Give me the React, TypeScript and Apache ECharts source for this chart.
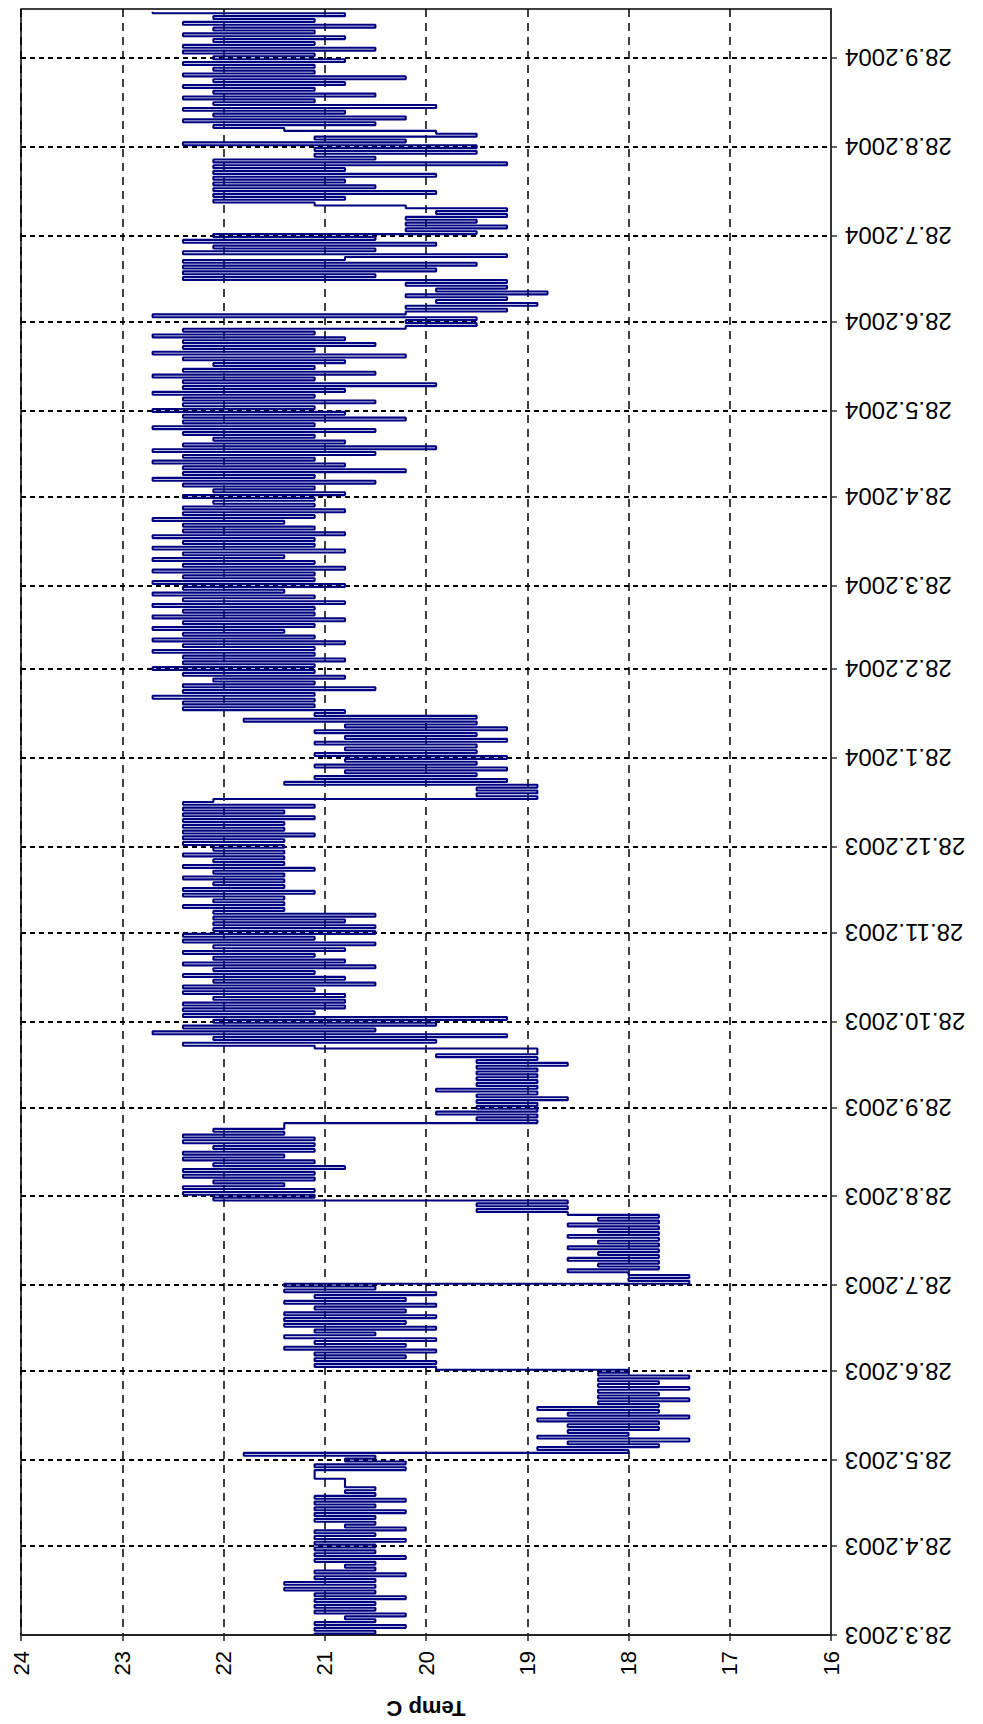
import React, { useEffect, useRef } from "react";
import * as echarts from "echarts";

// Daily readings starting 28.3.2003 (one value per day)
const START_UTC = Date.UTC(2003, 2, 28);
const END_UTC = Date.UTC(2004, 9, 15);
const DAY_MS = 86400000;

const spring2003 = [
  21.1, 20.5, 21.1, 20.2, 21.1, 20.5, 20.8, 20.2, 21.1, 20.5,
  21.1, 20.5, 21.1, 20.2, 21.1, 20.5, 21.4, 20.5, 21.4, 20.5,
  21.1, 20.2, 21.1, 20.5, 20.8, 20.5, 21.1, 20.2, 21.1, 20.5,
  21.1, 20.5, 21.1, 20.2, 21.1, 20.5, 21.1, 20.2, 20.8, 20.5,
  21.1, 20.5, 21.1, 20.2, 21.1, 20.5, 21.1, 20.2, 21.1, 20.5,
  20.8, 20.5, 20.8, null, null, null, null, 21.1, 20.2, 21.1,
  20.2, 20.8, 20.5, 21.8,
];
const june2003 = [
  18.0, 18.9, 17.7, 18.6, 17.4, 18.9, 18.0, 18.6,
  17.7, 18.6, 17.7, 18.9, 17.4, 18.6, 17.7, 18.9, 17.7, 18.3,
  17.4, 18.3, 17.7, 18.3, 17.4, 18.3, 17.7, 18.3, 17.4, 18.3, 18.0,
  19.9,
];
const july2003 = [
  21.1, 19.9, 21.1, 20.2, 21.1, 19.9, 21.4, 20.2, 21.1, 19.9,
  21.4, 20.5, 21.1, 19.9, 21.4, 20.2, 21.4, 19.9, 21.4, 20.2,
  21.1, 19.9, 21.4, 20.2, 21.1, 19.9, 21.4, 20.5, 21.4,
];
const august2003 = [
  17.4, 18.0, 17.4, 18.0,
  18.6, 17.7, 18.3, 17.7, 18.6, 17.7, 18.3, 17.7, 18.6, 17.7,
  18.3, 17.7, 18.6, 17.7, 18.3, 17.7, 18.6, 17.7, 18.3, 17.7,
  18.6, 19.5, 18.6, 19.5, 18.6,
];
const september2003 = [
  22.1, 21.1, 22.4, 21.1, 22.4, 21.4, 22.1, 21.1, 22.4, 21.1,
  22.4, 20.8, 22.1, 21.1, 22.4, 21.4, 22.4, 21.1, 22.1, 21.1,
  22.4, 21.1, 22.4, 21.4, 22.1, 21.4, 21.4,
];
const october2003 = [
  18.9, 19.5, 18.9, 19.9, 18.9, 19.5, 18.9, 19.5, 18.6, 19.5,
  18.9, 19.9, 18.9, 19.5, 18.9, 19.5, 18.9, 19.5, 18.9, 19.5,
  18.6, 19.5, 18.9, 19.9, 18.9, 18.9,
];
const november2003 = [
  21.1, 22.4, 19.9, 22.1, 19.2, 22.7, 20.5, 22.4, 19.9, 22.1, 19.2,
  22.4, 21.1, 22.4, 20.8, 22.4,
  20.8, 22.1, 20.8, 22.4, 21.1, 22.4, 20.5, 22.1, 20.8, 22.4,
  21.1, 22.1, 20.5, 22.4, 20.8, 22.1, 21.1, 22.4, 20.8, 22.1,
  20.5, 22.4, 21.1, 22.4,
  20.5, 22.1, 20.5, 22.1, 20.8, 22.1, 20.5,
];
const december2003 = [
  22.1, 21.4, 22.4, 21.4, 22.1, 21.4, 22.4, 21.1, 22.4, 21.4,
  22.1, 21.4, 22.4, 21.4, 22.1, 21.1, 22.4, 21.4, 22.1, 21.4,
  22.4, 21.4, 22.1, 21.4,
  22.4, 21.4, 22.4, 21.1, 22.4, 21.4, 22.4, 21.4, 22.4, 21.1,
  22.4, 21.4, 22.4, 21.1, 22.4, 22.1,
];
const january2004 = [
  18.9, 19.5, 18.9, 19.5, 18.9, 21.4,
  19.2, 21.1, 19.5, 20.8, 19.2, 21.1, 19.5, 20.8, 19.2, 21.1,
  19.5, 20.8, 19.5, 21.1, 19.2, 20.8, 19.5, 21.1, 19.2, 20.8,
  19.5, 21.8, 19.5, 21.1, 20.8,
];
const spring2004 = [
  22.4, 21.1, 22.4, 21.1, 22.7, 21.1, 22.4, 20.5, 22.4, 21.1,
  22.1, 20.8, 22.4, 21.1, 22.7, 21.1, 22.4, 20.8, 22.4, 21.1,
  22.7, 21.1, 22.4, 20.8, 22.7, 21.1, 22.4, 21.4, 22.7, 21.1,
  22.4, 20.8, 22.7, 21.1, 22.4, 21.1, 22.7, 20.8, 22.4, 21.1,
  22.7, 21.4, 22.4, 20.8, 22.7, 21.1, 22.4, 21.1, 22.7, 20.8,
  22.4, 21.1, 22.7, 21.4, 22.4, 20.8, 22.7, 21.1, 22.4, 21.1,
  22.7, 20.8, 22.4, 21.1, 22.4, 21.4, 22.7, 21.1, 22.4, 20.8,
  22.4, 21.1, 22.1, 21.1, 22.4, 20.8, 22.1,
];
const may2004 = [
  21.1, 22.4, 20.5, 22.7, 21.1, 22.4, 20.2, 22.4, 20.8, 22.7,
  21.1, 22.4, 20.5, 22.7, 19.9, 22.4, 20.8, 22.1, 21.1, 22.4,
  20.5, 22.7, 21.1, 22.4, 20.2, 22.4, 20.8, 22.7, 21.1, 22.4,
  20.5, 22.4, 21.1, 22.7, 20.8, 22.4, 19.9, 22.4, 21.1, 22.7,
  20.5, 22.4, 21.1, 22.1, 20.8, 22.4, 20.2, 22.7, 21.1, 22.4,
  20.5, 22.4, 20.8, 22.7, 21.1, 22.4,
];
const summer2004 = [
  20.2, 19.5, 20.2, 19.5, 22.7, 20.2,
  19.2, 20.2, 18.9, 19.9, 19.2, 20.2, 18.8, 19.9, 19.2, 20.2, 19.2,
  22.4, 20.5, 22.4, 19.9, 22.4, 19.5, 22.4, 20.8, 19.2, 22.4,
  20.5, 22.1, 19.9, 22.4, 20.5, 22.1, 19.5,
  20.2, 19.2, 20.2, 19.5, 20.2, 19.2, 19.9, 19.2, 20.2,
  21.1, 22.1, 20.8, 22.1, 19.9, 22.1, 20.5, 22.1, 20.8, 22.1,
  19.9, 22.1, 20.8, 22.1, 19.2, 22.1, 20.5,
];
const autumn2004 = [
  21.1, 19.5, 21.1, 19.5, 22.4, 20.2, 21.1, 19.5, 19.9, 21.4,
  22.1, 20.5, 22.4, 20.2, 22.1, 20.8, 22.4, 19.9, 22.1, 21.1,
  22.4, 20.5, 22.1, 21.1, 22.4, 20.8, 22.1, 20.2, 22.4, 21.1,
  22.1,
  21.1, 22.4, 20.8, 22.1, 21.1, 22.4, 20.5, 22.4, 21.1, 22.1,
  20.8, 22.4, 21.1, 22.1, 20.5, 22.4, 21.1, 22.1, 20.8, 22.7,
];

// Date-axis ticks: the 28th of each month
const tickMonths: [number, number][] = [
  [2003, 3], [2003, 4], [2003, 5], [2003, 6], [2003, 7], [2003, 8], [2003, 9],
  [2003, 10], [2003, 11], [2003, 12], [2004, 1], [2004, 2], [2004, 3], [2004, 4],
  [2004, 5], [2004, 6], [2004, 7], [2004, 8], [2004, 9],
];

const TEMP_MIN = 16;
const TEMP_MAX = 24;

export default function App() {
  const ref = useRef<HTMLDivElement>(null);
  useEffect(() => {
    if (!ref.current) return;
    const chart = echarts.init(ref.current, null, { renderer: "svg" });
    const temps = [
      ...spring2003, ...june2003, ...july2003, ...august2003, ...september2003,
      ...october2003, ...november2003, ...december2003, ...january2004,
      ...spring2004, ...may2004, ...summer2004, ...autumn2004,
    ];
    const data = temps.map((t, i) => [t, START_UTC + i * DAY_MS]);
    const tickValues = tickMonths.map(([y, m]) => Date.UTC(y, m - 1, 28));
    const fmt = (v: number) => {
      const d = new Date(v);
      return `${d.getUTCDate()}.${d.getUTCMonth() + 1}.${d.getUTCFullYear()}`;
    };
    const font = "'Liberation Sans', Arial, sans-serif";
    chart.setOption({
      animation: false,
      backgroundColor: "#ffffff",
      grid: {
        left: 21, top: 9, width: 810, height: 1627,
        show: true, borderColor: "#000", borderWidth: 1.5, backgroundColor: "transparent",
      },
      xAxis: {
        type: "value",
        min: TEMP_MIN, max: TEMP_MAX, interval: 1, inverse: true, position: "bottom",
        axisLine: { show: true, onZero: false, lineStyle: { color: "#222", width: 2 } },
        axisTick: { show: true, length: 6, lineStyle: { color: "#222", width: 1.5 } },
        axisLabel: { rotate: 90, fontSize: 22, margin: 16, color: "#000", fontFamily: font },
        splitLine: { show: true, lineStyle: { color: "#000", type: [8, 6], width: 1.5 } },
        name: "Temp C",
        nameLocation: "middle",
        nameGap: 62,
        nameRotate: 180,
        nameTextStyle: { fontSize: 22, fontWeight: "bold", color: "#000", fontFamily: font },
      },
      yAxis: [
        {
          // time axis carrying the data (base axis, so steps run along time)
          type: "time",
          min: START_UTC, max: END_UTC, position: "left",
          show: false,
          splitLine: { show: false },
        },
        {
          // visible date axis with ticks on the 28th of each month
          type: "value",
          min: START_UTC, max: END_UTC, position: "right",
          axisLine: { show: true, onZero: false, lineStyle: { color: "#333", width: 2 } },
          axisTick: { show: true, length: 6, customValues: tickValues, lineStyle: { color: "#333", width: 1.5 } },
          axisLabel: {
            customValues: tickValues, rotate: 180, formatter: fmt, fontSize: 24, margin: 14,
            color: "#000", fontFamily: font,
          },
          splitLine: { show: true, lineStyle: { color: "#000", type: [5, 4], width: 2 } },
        },
      ],
      series: [
        {
          type: "line",
          yAxisIndex: 0,
          data,
          step: "middle",
          showSymbol: false,
          symbol: "none",
          connectNulls: true,
          lineStyle: { color: "#000080", width: 2.1 },
          itemStyle: { color: "#000080" },
          z: 3,
        },
      ],
    });
    return () => chart.dispose();
  }, []);
  return (
    <div
      ref={ref}
      style={{ position: "absolute", left: 0, top: 0, width: 983, height: 1724, background: "#fff" }}
    />
  );
}
